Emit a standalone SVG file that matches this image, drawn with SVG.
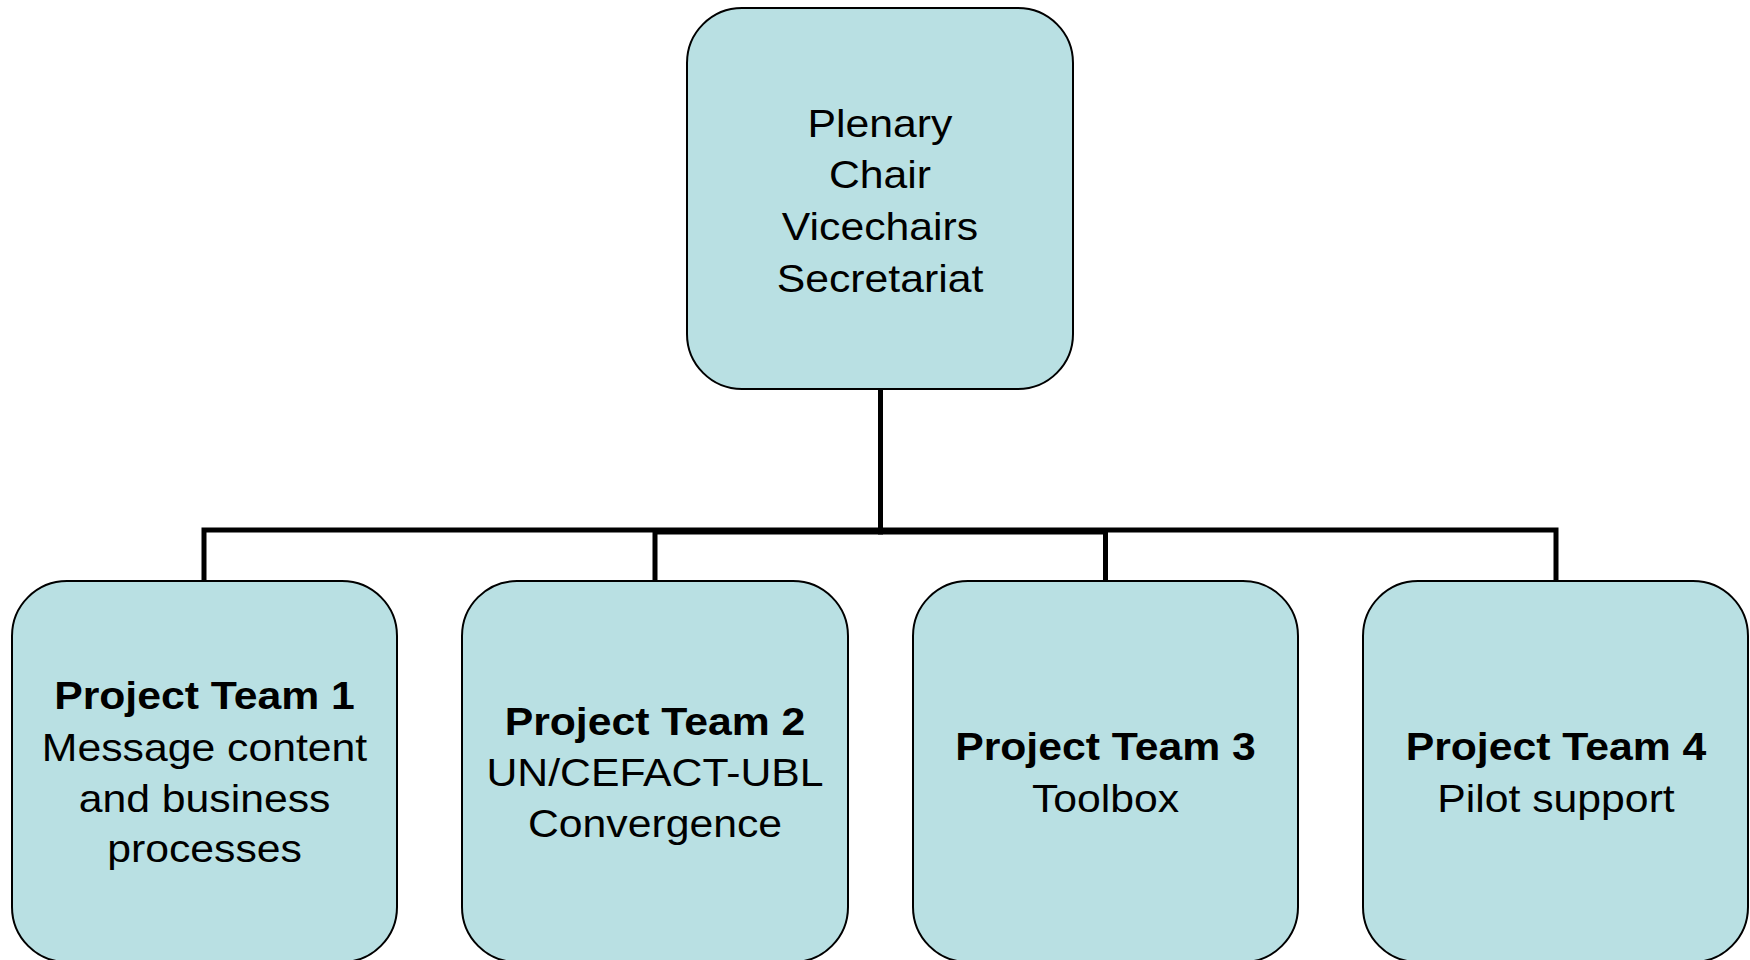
<svg xmlns="http://www.w3.org/2000/svg" width="1750" height="960" viewBox="0 0 1750 960">
<style>
.box{fill:#B9E0E3;stroke:#000;stroke-width:2}
.t{font-family:"Liberation Sans",Arial,sans-serif;font-size:38.5px;fill:#000;text-anchor:middle}
.b{font-weight:bold}
.c{fill:none;stroke:#000;stroke-width:5}
</style>
<rect width="1750" height="960" fill="#fff"/>
<g id="connectors">
<path class="c" d="M880.5,389 V530 H204 V581"/>
<path class="c" d="M880.5,389 V530 H1556 V581"/>
<path class="c" d="M880.5,389 V532 H655 V581"/>
<path class="c" d="M880.5,389 V532 H1105.5 V581"/>
</g>
<g id="plenary">
<rect class="box" x="687" y="8" width="386" height="381" rx="55" ry="55"/>
<text class="t" transform="translate(880,0) scale(1.11,1)"><tspan x="0" y="137">Plenary</tspan><tspan x="0" y="188.5">Chair</tspan><tspan x="0" y="240.5">Vicechairs</tspan><tspan x="0" y="292">Secretariat</tspan></text>
</g>
<g id="pt1">
<rect class="box" x="12" y="581" width="385" height="381" rx="55" ry="55"/>
<text class="t" transform="translate(204.5,0) scale(1.11,1)"><tspan class="b" x="0" y="709">Project Team 1</tspan><tspan x="0" y="761">Message content</tspan><tspan x="0" y="812">and business</tspan><tspan x="0" y="862">processes</tspan></text>
</g>
<g id="pt2">
<rect class="box" x="462" y="581" width="386" height="381" rx="55" ry="55"/>
<text class="t" transform="translate(655,0) scale(1.11,1)"><tspan class="b" x="0" y="735">Project Team 2</tspan><tspan x="0" y="786">UN/CEFACT-UBL</tspan><tspan x="0" y="837">Convergence</tspan></text>
</g>
<g id="pt3">
<rect class="box" x="913" y="581" width="385" height="381" rx="55" ry="55"/>
<text class="t" transform="translate(1105.5,0) scale(1.11,1)"><tspan class="b" x="0" y="760">Project Team 3</tspan><tspan x="0" y="812">Toolbox</tspan></text>
</g>
<g id="pt4">
<rect class="box" x="1363" y="581" width="385" height="381" rx="55" ry="55"/>
<text class="t" transform="translate(1556,0) scale(1.11,1)"><tspan class="b" x="0" y="760">Project Team 4</tspan><tspan x="0" y="812">Pilot support</tspan></text>
</g>
</svg>
